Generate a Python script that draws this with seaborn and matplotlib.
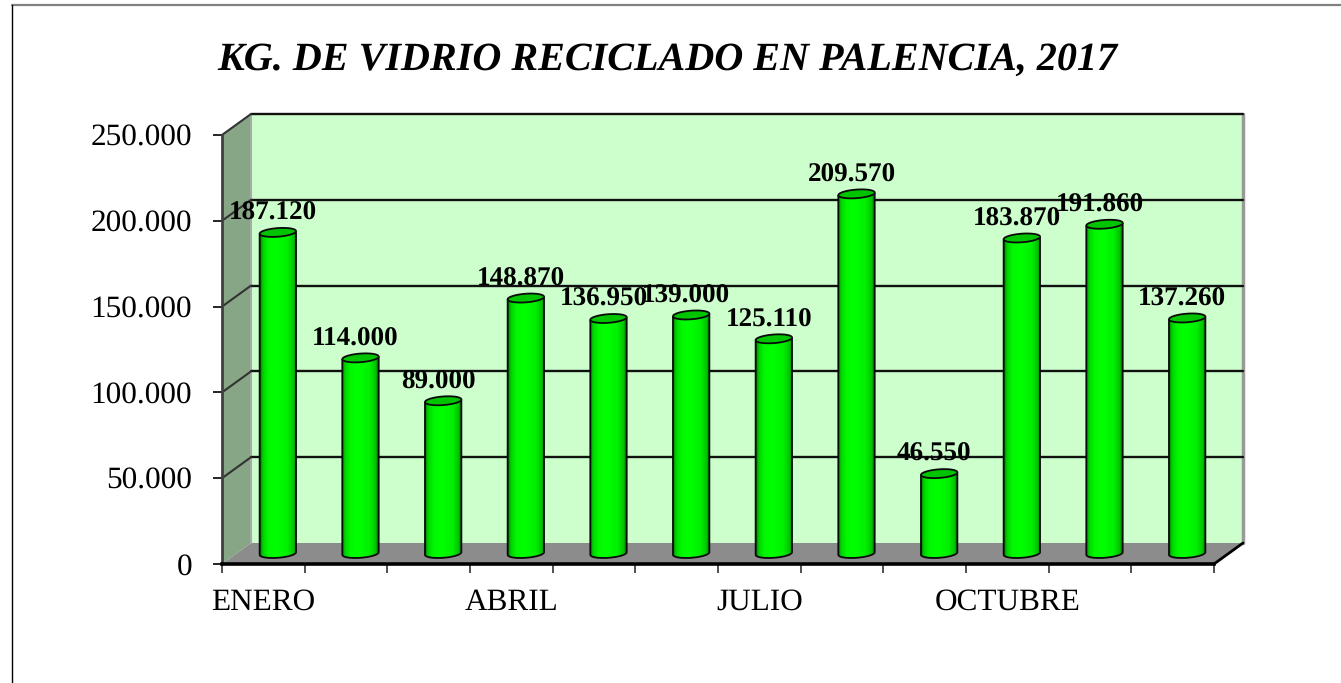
import numpy as np
import pandas as pd
import seaborn as sns
import matplotlib
matplotlib.use("Agg")
import matplotlib.pyplot as plt
from matplotlib.colors import LinearSegmentedColormap
from matplotlib.lines import Line2D
from matplotlib.patches import Polygon, Rectangle
from matplotlib.ticker import FuncFormatter

# data
meses = ["ENERO", "FEBRERO", "MARZO", "ABRIL", "MAYO", "JUNIO", "JULIO",
         "AGOSTO", "SEPTIEMBRE", "OCTUBRE", "NOVIEMBRE", "DICIEMBRE"]
kilos = [187120, 114000, 89000, 148870, 136950, 139000, 125110,
         209570, 46550, 183870, 191860, 137260]
etiquetas_x = ["ENERO", "", "", "ABRIL", "", "", "JULIO", "", "", "OCTUBRE", "", ""]
ticks_y = [0, 50000, 100000, 150000, 200000, 250000]

titulo = "KG. DE VIDRIO RECICLADO EN PALENCIA, 2017"

sns.set_style("white")
plt.rcParams["font.family"] = ["Liberation Serif", "DejaVu Serif"]
plt.rcParams["text.hinting"] = "no_hinting"
plt.rcParams["text.color"] = "black"

W, H = 1341, 683
fig = plt.figure(figsize=(W / 100, H / 100), dpi=100, facecolor="white")
ax = fig.add_axes([222 / W, 1 - 564 / H, (1214 - 222) / W, (564 - 135) / H])
ax.patch.set_visible(False)

df = pd.DataFrame({"mes": meses, "kg": kilos})
sns.barplot(data=df, x="mes", y="kg", color="#00ff00", width=0.44, saturation=1, ax=ax, zorder=3)

x_izq, x_der = -0.5, 11.5
y_top = ticks_y[-1]
# 3d look: how far back the wall sits, px turned to data units
px_x = (x_der - x_izq) / (1214 - 222)
px_y = y_top / (564 - 135)
dx, dy = 29 * px_x, 21 * px_y

# walls and floor
ax.add_patch(Rectangle((x_izq + dx, dy), x_der - x_izq, y_top, fc="#ccffcc", ec="none", zorder=0, clip_on=False))
ax.add_patch(Polygon([(x_izq, 0), (x_izq + dx, dy), (x_izq + dx, y_top + dy), (x_izq, y_top)],
                     fc="#86a686", ec="none", zorder=0, clip_on=False))
ax.add_patch(Polygon([(x_izq, 0), (x_der, 0), (x_der + dx, dy), (x_izq + dx, dy)],
                     fc="#8c8c8c", ec="none", zorder=1, clip_on=False))

# gridlines on the back wall + the diagonal on the side wall
ax.plot([x_der + dx, x_der + dx], [dy, y_top + dy], color="#999999", lw=2.5, zorder=1, clip_on=False)
ax.plot([x_izq + dx, x_izq + dx], [dy, y_top + dy], color="#aaaaaa", lw=1.5, zorder=1, clip_on=False)
for t in ticks_y[1:]:
    ax.plot([x_izq + dx, x_der + dx], [t + dy, t + dy], color="#111111", lw=1.7, zorder=1, clip_on=False)
    ax.plot([x_izq, x_izq + dx], [t, t + dy], color="#333333", lw=1.5, zorder=1, clip_on=False)
ax.plot([x_der, x_der + dx], [0, dy], color="black", lw=2, zorder=2, clip_on=False)

# cylinders
cilindro = LinearSegmentedColormap.from_list(
    "cilindro", [(0, "#007a00"), (0.07, "#00d000"), (0.22, "#00f800"), (0.45, "#00ff00"),
                 (0.75, "#00f000"), (0.92, "#00c400"), (1, "#006a00")])
ry = 4.3 * px_y
giro = 1.3 * px_y  # the ellipses lean up to the right
ang = np.linspace(0, 2 * np.pi, 81)
for barra, valor in zip(ax.patches[:len(kilos)], kilos):
    barra.set_x(barra.get_x() + dx / 2)
    barra.set_y(dy / 2)
    barra.set_edgecolor("none")
    barra.set_height(valor - giro)
    x0, x1 = barra.get_x(), barra.get_x() + barra.get_width()
    xc, rx = (x0 + x1) / 2, (x1 - x0) / 2
    base, tope = dy / 2, dy / 2 + valor
    px = xc + rx * np.cos(ang)
    py = ry * np.sin(ang) + giro * np.cos(ang)

    mitad = ang[40:]  # lower half of the ellipse
    contorno = [(x0, tope - giro)] + list(zip(xc + rx * np.cos(mitad),
                                              base + ry * np.sin(mitad) + giro * np.cos(mitad))) + [(x1, tope + giro)]
    silueta = Polygon(contorno, closed=False, fc="none", ec="#0a0a0a", lw=1.3, zorder=4)
    ax.add_patch(silueta)
    im = ax.imshow(np.linspace(0, 1, 64)[None, :], cmap=cilindro, aspect="auto", zorder=3.5,
                   extent=(x0, x1, base - ry - giro, tope + giro))
    im.set_clip_path(silueta)
    ax.add_patch(Polygon(np.column_stack([px, tope + py]), fc="#00c400", ec="#0a0a0a", lw=1.3, zorder=5))

    ax.annotate(f"{valor:,}".replace(",", "."), (xc, tope), xytext=(-5 * 0.72, 19 * 0.72),
                textcoords="offset points", ha="center", va="center",
                fontsize=19.5, fontweight="bold", color="black", zorder=6)

ax.set_xlim(x_izq, x_der)
ax.set_ylim(0, y_top)
ax.set_xlabel("")
ax.set_ylabel("")

ax.set_xticks(range(len(meses)), etiquetas_x, fontsize=22.5)
ax.set_xticks(np.arange(x_izq, x_der + 0.5), minor=True)
ax.tick_params(axis="x", which="major", length=0, pad=17.7, labelcolor="black")
ax.tick_params(axis="x", which="minor", bottom=True, length=6.5, width=1.2, color="#333333")
ax.set_yticks(ticks_y)
ax.yaxis.set_major_formatter(FuncFormatter(lambda v, p: f"{int(v):,}".replace(",", ".")))
ax.tick_params(axis="y", left=True, length=6.5, width=1.2, color="black", labelsize=22.5,
               labelcolor="black", pad=15)

sns.despine(ax=ax, top=True, right=True)
ax.spines["left"].set(color="#404040", linewidth=2)
ax.spines["bottom"].set(color="black", linewidth=2.6, zorder=6)

fig.text(667 / W, 1 - 60 / H, titulo, ha="center", va="center",
         fontsize=28.9, fontweight="bold", fontstyle="italic", color="black")

# outer frame of the chart area: only top and left show
fig.add_artist(Line2D([11.5 / W, 1], [1 - 5 / H, 1 - 5 / H], color="#808080", lw=1.6))
fig.add_artist(Line2D([11.5 / W, 11.5 / W], [0, 1 - 5 / H], color="black", lw=1))

fig.savefig("out.png", dpi=100)
